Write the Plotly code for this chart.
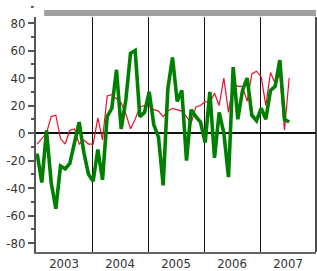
import plotly.graph_objects as go

years = ["2003", "2004", "2005", "2006", "2007"]
months = list(range(55))
green_vals = [-15, -36, 2, -36, -55, -24, -26, -22, -7, 8, -14, -30,
              -35, -12, -34, 12, 18, 46, 3, 24, 58, 60, 12, 15,
              30, 6, -3, -38, 32, 55, 23, 31, -20, 17, 12, 8,
              -7, 30, -18, 15, 0, -32, 48, 10, 31, 40, 13, 9,
              18, 10, 31, 34, 53, 10, 8]
red_vals = [-8, -4, 0, 12, 13, -4, -8, 2, 3, -8, -5, -8,
            -8, 11, -5, 27, 28, 25, 22, 14, 3, 10, 19, 20,
            20, 17, 16, 12, 16, 18, 17, 16, 12, 7, 19, 20,
            23, 22, 29, 20, 40, 15, 36, 34, 34, 23, 43, 45,
            41, 20, 44, 36, 43, 2, 40]
y_ticks = [80, 60, 40, 20, 0, -20, -40, -60, -80]
y_ticktext = ["80", "60", "40", "20", "0", "-20", "-40", "-60", "-80"]

xpos = [m + 0.25 for m in months]
font_family = "DejaVu Sans Condensed, Liberation Sans Narrow, sans-serif"

fig = go.Figure()
fig.add_trace(go.Scatter(x=xpos, y=red_vals, mode="lines",
                         line=dict(color="#e8112d", width=1.2), showlegend=False))
fig.add_trace(go.Scatter(x=xpos, y=green_vals, mode="lines",
                         line=dict(color="#008000", width=3.6), showlegend=False))

fig.update_layout(
    width=317, height=271,
    margin=dict(l=36, r=1, t=17, b=19),
    paper_bgcolor="white", plot_bgcolor="white",
    font=dict(family=font_family, size=13, color="#333333"),
    showlegend=False,
)
fig.update_xaxes(
    range=[0, 60], automargin=False,
    tickvals=[6, 18, 30, 42, 54], ticktext=years,
    ticks="", showgrid=False, zeroline=False, ticklabelstandoff=-2,
    showline=True, linecolor="#666666", linewidth=2,
    minor=dict(tickvals=[12, 24, 36, 48], showgrid=True, gridcolor="#111111", gridwidth=1, ticks=""),
    fixedrange=True,
)
fig.update_yaxes(
    range=[-86.5, 84.4], automargin=False,
    tickvals=y_ticks, ticktext=y_ticktext,
    ticks="outside", ticklen=6, tickwidth=2, tickcolor="#555555",
    showgrid=False, zeroline=True, zerolinecolor="#111111", zerolinewidth=1.5,
    showline=True, linecolor="#555555", linewidth=2,
    minor=dict(dtick=20, tick0=10, ticks="outside", ticklen=3, tickwidth=2, tickcolor="#555555"),
    fixedrange=True,
)
# top gray band
fig.add_shape(type="rect", xref="paper", yref="paper", x0=0.029, x1=1.0, y0=1.004, y1=1.03,
              fillcolor="#a0a0a0", line=dict(width=0), layer="above")
# right border
fig.add_shape(type="line", xref="paper", yref="paper", x0=1, x1=1, y0=0, y1=1,
              line=dict(color="#111111", width=1.5))
# small tick above plot
fig.add_shape(type="line", xref="paper", yref="paper", x0=-0.018, x1=-0.008, y0=1.043, y1=1.043,
              line=dict(color="#555555", width=2))

fig.write_html("out.html", config={"displayModeBar": False},
               post_script="document.body.style.margin='0';document.body.style.overflow='hidden';")
